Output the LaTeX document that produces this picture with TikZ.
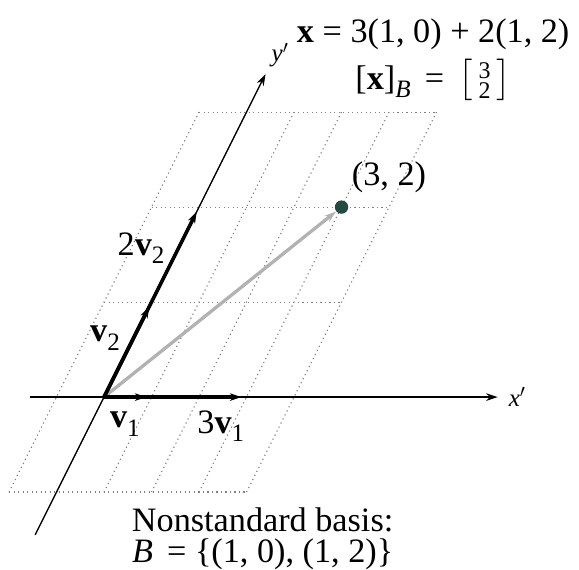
\documentclass[tikz,border=0pt]{standalone}
\usepackage{fontspec}
\setmainfont{Liberation Serif}
\usepackage{amsmath}
\usetikzlibrary{arrows.meta}
\definecolor{dotgreen}{RGB}{35,75,65}
\newcommand{\subsm}[1]{\raisebox{-5pt}{\fontsize{15}{15}\selectfont #1}}
\newcommand{\vsub}[1]{\textbf{v}\subsm{#1}}

\begin{document}
\begin{tikzpicture}[>={Stealth[length=7pt, width=4.5pt]},
  grd/.style={dotted, gray, line width=0.7pt},
  ax/.style={->, line width=1pt},
  vec/.style={->, line width=2.2pt, shorten >=3pt},
  dot/.style={circle, fill=dotgreen, inner sep=0pt, minimum size=8pt},
  lb/.style={font=\fontsize{20.5}{24}\selectfont, inner sep=1pt}]
\useasboundingbox (-2.19,-3.62) rectangle (10.0,8.36);
% grid of the basis B
\foreach \i in {-1,...,4} \draw[grd] (\i-1,-2) -- (\i+3,6);
\foreach \j in {-1,...,3} \draw[grd] (\j-1,2*\j) -- (\j+4,2*\j);
\coordinate (o) at (0,0);
\coordinate (xl) at (-1.56,0); \coordinate (xr) at (8.29,0);
\coordinate (yl) at (-1.45,-2.9); \coordinate (yr) at (3.4,6.8);
\coordinate (v1) at (1,0); \coordinate (v3) at (3,0);
\coordinate (v2) at (1,2); \coordinate (w2) at (2,4);
\node[dot] (p) at (5,4) {};
\draw[ax] (xl) -- (xr);
\draw[ax, line width=0.8pt] (yl) -- (yr);
\draw[->, gray!60, line width=2pt] (o) -- (p);
\draw[vec] (o) -- (v3); \draw[vec] (o) -- (v1);
\draw[vec] (o) -- (w2); \draw[vec] (o) -- (v2);
\node[lb] (lv1) at (0.44,-0.57) {\vsub{1}};
\node[lb] (l3v1) at (2.46,-0.61) {3\vsub{1}};
\node[lb] (lv2) at (0.02,1.24) {\vsub{2}};
\node[lb] (l2v2) at (0.78,3.14) {2\vsub{2}};
\node[lb] (lp) at (6.0,4.63) {(3, 2)};
\node[lb, align=center, font=\fontsize{20.5}{28}\selectfont] (lx) at (6.93,7.1)
  {\textbf{x} = 3(1, 0) + 2(1, 2)\\ {[}\textbf{x}]\subsm{\textit{B}}\, = \,$\bigl[\begin{smallmatrix}\text{3}\\ \text{2}\end{smallmatrix}\bigr]$};
\node[font=\fontsize{15}{18}\selectfont] (lxp) at (8.7,0) {\textit{x}$'$};
\node[font=\fontsize{15}{18}\selectfont] (lyp) at (3.71,7.2) {\textit{y}$'$};
\node[lb, align=center, font=\fontsize{20.5}{19}\selectfont] (lnb) at (3.34,-2.98)
  {Nonstandard basis:\\ \textit{B} \,= \{(1, 0), (1, 2)\}};
\end{tikzpicture}
\end{document}
